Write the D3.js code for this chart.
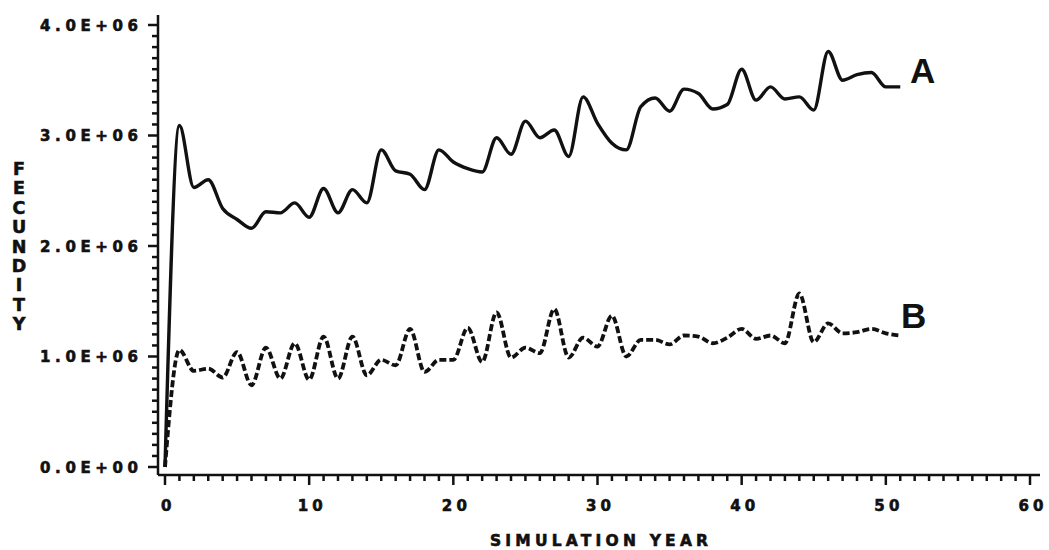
<!DOCTYPE html>
<html>
<head>
<meta charset="utf-8">
<script src="https://cdn.jsdelivr.net/npm/d3@7"></script>
<style>
  html, body { margin: 0; padding: 0; background: #fff; }
  svg { display: block; }
  .tick-label { font-family: "DejaVu Sans", "Liberation Sans", sans-serif; font-weight: bold; font-size: 15px; fill: #111; stroke: #111; stroke-width: 0.6px; }
  .title { font-family: "DejaVu Sans", "Liberation Sans", sans-serif; font-weight: bold; font-size: 15.5px; fill: #111; stroke: #111; stroke-width: 0.6px; }
  .ytitle { font-family: "DejaVu Sans", "Liberation Sans", sans-serif; font-weight: bold; font-size: 17.5px; fill: #111; stroke: #111; stroke-width: 0.6px; }
  .series-label { font-family: "Liberation Sans", Arial, sans-serif; font-weight: bold; font-size: 35px; fill: #111; }
</style>
</head>
<body>
<svg id="chart" width="1049" height="550"></svg>
<script>
// Simulation years 0..51
const years = d3.range(0, 52);

// Fecundity, curve A (solid), in units of 1.0E+06
const seriesA = [
  0.00, 3.09, 2.53, 2.60, 2.34, 2.24, 2.16, 2.31, 2.30, 2.39,
  2.26, 2.52, 2.30, 2.51, 2.39, 2.87, 2.68, 2.65, 2.51, 2.87,
  2.76, 2.70, 2.67, 2.98, 2.83, 3.13, 2.98, 3.05, 2.81, 3.35,
  3.11, 2.93, 2.87, 3.26, 3.34, 3.22, 3.42, 3.38, 3.24, 3.28,
  3.60, 3.32, 3.44, 3.33, 3.35, 3.23, 3.76, 3.50, 3.55, 3.57,
  3.44, 3.44
];

// Fecundity, curve B (dashed), in units of 1.0E+06
const seriesB = [
  0.00, 1.06, 0.87, 0.89, 0.81, 1.04, 0.74, 1.08, 0.80, 1.12,
  0.79, 1.18, 0.80, 1.18, 0.83, 0.97, 0.92, 1.25, 0.86, 0.97,
  0.97, 1.26, 0.95, 1.40, 0.99, 1.08, 1.03, 1.43, 0.99, 1.17,
  1.09, 1.37, 1.00, 1.15, 1.15, 1.11, 1.19, 1.18, 1.12, 1.17,
  1.25, 1.16, 1.19, 1.12, 1.57, 1.13, 1.30, 1.21, 1.22, 1.25,
  1.21, 1.19
];

const yTickValues = [0, 1, 2, 3, 4];
const yTickLabels = ["0.0E+00", "1.0E+06", "2.0E+06", "3.0E+06", "4.0E+06"];
const xTickValues = [0, 10, 20, 30, 40, 50, 60];
const xTickLabels = ["0", "10", "20", "30", "40", "50", "60"];
const xTitle = "SIMULATION YEAR";
const yTitle = "FECUNDITY";

const svg = d3.select("#chart");

const x = d3.scaleLinear().domain([0, 60]).range([165, 1030]);
const y = d3.scaleLinear().domain([0, 4]).range([467, 25]);

const axisX0 = 158;   // vertical axis position
const axisY0 = 475;   // horizontal axis position

const ink = "#111";

// Vertical axis line with minor/major ticks on the left
svg.append("line")
  .attr("x1", axisX0).attr("x2", axisX0)
  .attr("y1", 15).attr("y2", axisY0)
  .attr("stroke", ink).attr("stroke-width", 2.5);

const yMinor = d3.range(0, 41).map(d => d / 10);
svg.append("g").selectAll("line").data(yMinor).join("line")
  .attr("x1", d => (Math.round(d * 10) % 10 === 0) ? axisX0 - 10 : axisX0 - 6)
  .attr("x2", axisX0)
  .attr("y1", d => y(d)).attr("y2", d => y(d))
  .attr("stroke", ink).attr("stroke-width", 2.5);

// Wide, printer-style tick labels: fixed run length per label
svg.append("g").selectAll("text").data(yTickValues).join("text")
  .attr("class", "tick-label")
  .attr("x", 40)
  .attr("y", d => y(d) + 5.5)
  .attr("textLength", 98)
  .attr("lengthAdjust", "spacing")
  .text((d, i) => yTickLabels[i]);

// Horizontal axis line with ticks below
svg.append("line")
  .attr("x1", axisX0).attr("x2", 1040)
  .attr("y1", axisY0).attr("y2", axisY0)
  .attr("stroke", ink).attr("stroke-width", 2.5);

const xMinor = d3.range(0, 61);
svg.append("g").selectAll("line").data(xMinor).join("line")
  .attr("x1", d => x(d)).attr("x2", d => x(d))
  .attr("y1", axisY0)
  .attr("y2", d => (d % 10 === 0) ? axisY0 + 10 : axisY0 + 6)
  .attr("stroke", ink).attr("stroke-width", 2.5);

svg.append("g").selectAll("text").data(xTickValues).join("text")
  .attr("class", "tick-label")
  .attr("x", (d, i) => x(d) + 1 - (xTickLabels[i].length > 1 ? 12.5 : 5))
  .attr("y", 511)
  .each(function (d, i) {
    if (xTickLabels[i].length > 1) {
      d3.select(this).attr("textLength", 25).attr("lengthAdjust", "spacing");
    }
  })
  .text((d, i) => xTickLabels[i]);

// Axis titles
svg.append("text")
  .attr("class", "title")
  .attr("x", 490)
  .attr("y", 546)
  .attr("textLength", 218)
  .attr("lengthAdjust", "spacing")
  .text(xTitle);

svg.append("g").selectAll("text").data(yTitle.split("")).join("text")
  .attr("class", "ytitle")
  .attr("x", 19)
  .attr("y", (d, i) => 175 + i * 19.4)
  .attr("text-anchor", "middle")
  .text(d => d);

// Curves
const line = d3.line()
  .x((d, i) => x(years[i]))
  .y(d => y(d))
  .curve(d3.curveMonotoneX);

svg.append("path")
  .datum(seriesA)
  .attr("d", line)
  .attr("fill", "none")
  .attr("stroke", ink)
  .attr("stroke-width", 3.4)
  .attr("stroke-linejoin", "round");

svg.append("path")
  .datum(seriesB)
  .attr("d", line)
  .attr("fill", "none")
  .attr("stroke", ink)
  .attr("stroke-width", 3.8)
  .attr("stroke-dasharray", "7,3");

// Curve labels
svg.append("text").attr("class", "series-label")
  .attr("x", 910).attr("y", 83).text("A");
svg.append("text").attr("class", "series-label")
  .attr("x", 901).attr("y", 328).text("B");
</script>
</body>
</html>
